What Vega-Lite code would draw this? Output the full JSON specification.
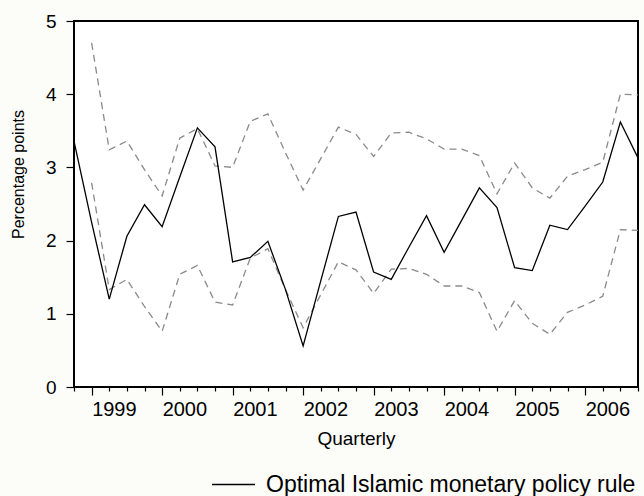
{
  "$schema": "https://vega.github.io/schema/vega-lite/v6.json",
  "width": 564,
  "height": 366,
  "autosize": "none",
  "padding": {"left": 74, "top": 21, "right": 6, "bottom": 109},
  "background": "#fcfcf8",
  "config": {
    "font": "Liberation Sans",
    "view": {"stroke": "black", "strokeWidth": 2, "fill": "white"},
    "axis": {"grid": false, "domain": false, "tickColor": "black", "labelColor": "black", "titleColor": "black", "titleFontWeight": "normal", "labelFont": "Liberation Sans", "titleFont": "Liberation Sans"}
  },
  "datasets": {
    "series": [
      {"q": 1998.75, "s": "rule", "v": 3.36},
      {"q": 1999.00, "s": "rule", "v": 2.25},
      {"q": 1999.25, "s": "rule", "v": 1.20},
      {"q": 1999.50, "s": "rule", "v": 2.06},
      {"q": 1999.75, "s": "rule", "v": 2.49},
      {"q": 2000.00, "s": "rule", "v": 2.19},
      {"q": 2000.25, "s": "rule", "v": 2.87},
      {"q": 2000.50, "s": "rule", "v": 3.54},
      {"q": 2000.75, "s": "rule", "v": 3.28},
      {"q": 2001.00, "s": "rule", "v": 1.71},
      {"q": 2001.25, "s": "rule", "v": 1.77},
      {"q": 2001.50, "s": "rule", "v": 1.99},
      {"q": 2001.75, "s": "rule", "v": 1.33},
      {"q": 2002.00, "s": "rule", "v": 0.56},
      {"q": 2002.25, "s": "rule", "v": 1.45},
      {"q": 2002.50, "s": "rule", "v": 2.33},
      {"q": 2002.75, "s": "rule", "v": 2.39},
      {"q": 2003.00, "s": "rule", "v": 1.57},
      {"q": 2003.25, "s": "rule", "v": 1.47},
      {"q": 2003.50, "s": "rule", "v": 1.91},
      {"q": 2003.75, "s": "rule", "v": 2.34},
      {"q": 2004.00, "s": "rule", "v": 1.84},
      {"q": 2004.25, "s": "rule", "v": 2.28},
      {"q": 2004.50, "s": "rule", "v": 2.72},
      {"q": 2004.75, "s": "rule", "v": 2.45},
      {"q": 2005.00, "s": "rule", "v": 1.63},
      {"q": 2005.25, "s": "rule", "v": 1.59},
      {"q": 2005.50, "s": "rule", "v": 2.21},
      {"q": 2005.75, "s": "rule", "v": 2.15},
      {"q": 2006.00, "s": "rule", "v": 2.47},
      {"q": 2006.25, "s": "rule", "v": 2.80},
      {"q": 2006.50, "s": "rule", "v": 3.62},
      {"q": 2006.75, "s": "rule", "v": 3.13},

      {"q": 1999.00, "s": "upper", "v": 4.70},
      {"q": 1999.25, "s": "upper", "v": 3.24},
      {"q": 1999.50, "s": "upper", "v": 3.36},
      {"q": 1999.75, "s": "upper", "v": 2.97},
      {"q": 2000.00, "s": "upper", "v": 2.61},
      {"q": 2000.25, "s": "upper", "v": 3.40},
      {"q": 2000.50, "s": "upper", "v": 3.53},
      {"q": 2000.75, "s": "upper", "v": 3.02},
      {"q": 2001.00, "s": "upper", "v": 3.00},
      {"q": 2001.25, "s": "upper", "v": 3.63},
      {"q": 2001.50, "s": "upper", "v": 3.73},
      {"q": 2001.75, "s": "upper", "v": 3.20},
      {"q": 2002.00, "s": "upper", "v": 2.69},
      {"q": 2002.25, "s": "upper", "v": 3.12},
      {"q": 2002.50, "s": "upper", "v": 3.55},
      {"q": 2002.75, "s": "upper", "v": 3.45},
      {"q": 2003.00, "s": "upper", "v": 3.15},
      {"q": 2003.25, "s": "upper", "v": 3.47},
      {"q": 2003.50, "s": "upper", "v": 3.48},
      {"q": 2003.75, "s": "upper", "v": 3.39},
      {"q": 2004.00, "s": "upper", "v": 3.25},
      {"q": 2004.25, "s": "upper", "v": 3.25},
      {"q": 2004.50, "s": "upper", "v": 3.16},
      {"q": 2004.75, "s": "upper", "v": 2.64},
      {"q": 2005.00, "s": "upper", "v": 3.06},
      {"q": 2005.25, "s": "upper", "v": 2.72},
      {"q": 2005.50, "s": "upper", "v": 2.58},
      {"q": 2005.75, "s": "upper", "v": 2.88},
      {"q": 2006.00, "s": "upper", "v": 2.97},
      {"q": 2006.25, "s": "upper", "v": 3.07},
      {"q": 2006.50, "s": "upper", "v": 4.00},
      {"q": 2006.75, "s": "upper", "v": 3.99},

      {"q": 1999.00, "s": "lower", "v": 2.79},
      {"q": 1999.25, "s": "lower", "v": 1.33},
      {"q": 1999.50, "s": "lower", "v": 1.47},
      {"q": 1999.75, "s": "lower", "v": 1.10},
      {"q": 2000.00, "s": "lower", "v": 0.76},
      {"q": 2000.25, "s": "lower", "v": 1.54},
      {"q": 2000.50, "s": "lower", "v": 1.66},
      {"q": 2000.75, "s": "lower", "v": 1.16},
      {"q": 2001.00, "s": "lower", "v": 1.12},
      {"q": 2001.25, "s": "lower", "v": 1.76},
      {"q": 2001.50, "s": "lower", "v": 1.89},
      {"q": 2001.75, "s": "lower", "v": 1.33},
      {"q": 2002.00, "s": "lower", "v": 0.81},
      {"q": 2002.25, "s": "lower", "v": 1.26},
      {"q": 2002.50, "s": "lower", "v": 1.71},
      {"q": 2002.75, "s": "lower", "v": 1.60},
      {"q": 2003.00, "s": "lower", "v": 1.28},
      {"q": 2003.25, "s": "lower", "v": 1.61},
      {"q": 2003.50, "s": "lower", "v": 1.62},
      {"q": 2003.75, "s": "lower", "v": 1.54},
      {"q": 2004.00, "s": "lower", "v": 1.38},
      {"q": 2004.25, "s": "lower", "v": 1.38},
      {"q": 2004.50, "s": "lower", "v": 1.29},
      {"q": 2004.75, "s": "lower", "v": 0.76},
      {"q": 2005.00, "s": "lower", "v": 1.18},
      {"q": 2005.25, "s": "lower", "v": 0.87},
      {"q": 2005.50, "s": "lower", "v": 0.72},
      {"q": 2005.75, "s": "lower", "v": 1.02},
      {"q": 2006.00, "s": "lower", "v": 1.12},
      {"q": 2006.25, "s": "lower", "v": 1.24},
      {"q": 2006.50, "s": "lower", "v": 2.15},
      {"q": 2006.75, "s": "lower", "v": 2.14}
    ]
  },
  "data": {"name": "series"},
  "encoding": {
    "x": {
      "field": "q",
      "type": "quantitative",
      "scale": {"domain": [1998.75, 2006.75], "nice": false, "zero": false},
      "axis": {
        "title": "Quarterly",
        "titleFontSize": 19,
        "titlePadding": 10,
        "values": [1998.75, 1999, 1999.25, 1999.5, 1999.75, 2000, 2000.25, 2000.5, 2000.75, 2001, 2001.25, 2001.5, 2001.75, 2002, 2002.25, 2002.5, 2002.75, 2003, 2003.25, 2003.5, 2003.75, 2004, 2004.25, 2004.5, 2004.75, 2005, 2005.25, 2005.5, 2005.75, 2006, 2006.25, 2006.5, 2006.75],
        "labelExpr": "datum.value % 1 == 0 ? format(datum.value, 'd') : ''",
        "labelAlign": "left",
        "labelFlush": false,
        "labelOverlap": false,
        "labelFontSize": 20,
        "labelPadding": 4,
        "tickSize": {"condition": {"test": "datum.value % 1 == 0", "value": 8}, "value": 4},
        "tickWidth": 1.2
      }
    },
    "y": {
      "field": "v",
      "type": "quantitative",
      "scale": {"domain": [0, 5], "nice": false, "zero": true},
      "axis": {
        "title": "Percentage points",
        "titleFontSize": 16,
        "titleY": 153,
        "titleX": -48,
        "values": [0, 1, 2, 3, 4, 5],
        "labelFontSize": 19,
        "labelPadding": 10,
        "tickSize": 8,
        "tickWidth": 1.2
      }
    }
  },
  "layer": [
    {
      "transform": [{"filter": "datum.s != 'rule'"}],
      "mark": {"type": "line", "color": "#8a8a8a", "strokeDash": [7, 5], "strokeWidth": 1.3},
      "encoding": {"detail": {"field": "s"}}
    },
    {
      "transform": [{"filter": "datum.s == 'rule'"}],
      "mark": {"type": "line", "strokeWidth": 1.3},
      "encoding": {
        "color": {
          "datum": "Optimal Islamic monetary policy rule",
          "scale": {"range": ["black"]},
          "legend": {
            "title": null,
            "orient": "none",
            "legendX": 137,
            "legendY": 441,
            "symbolType": "stroke",
            "symbolSize": 1849,
            "symbolStrokeWidth": 1.3,
            "symbolStrokeColor": "black",
            "labelFontSize": 23,
            "labelLimit": 0,
            "labelOffset": 10,
            "labelColor": "black",
            "labelFont": "Liberation Sans",
            "padding": 0
          }
        }
      }
    }
  ]
}
